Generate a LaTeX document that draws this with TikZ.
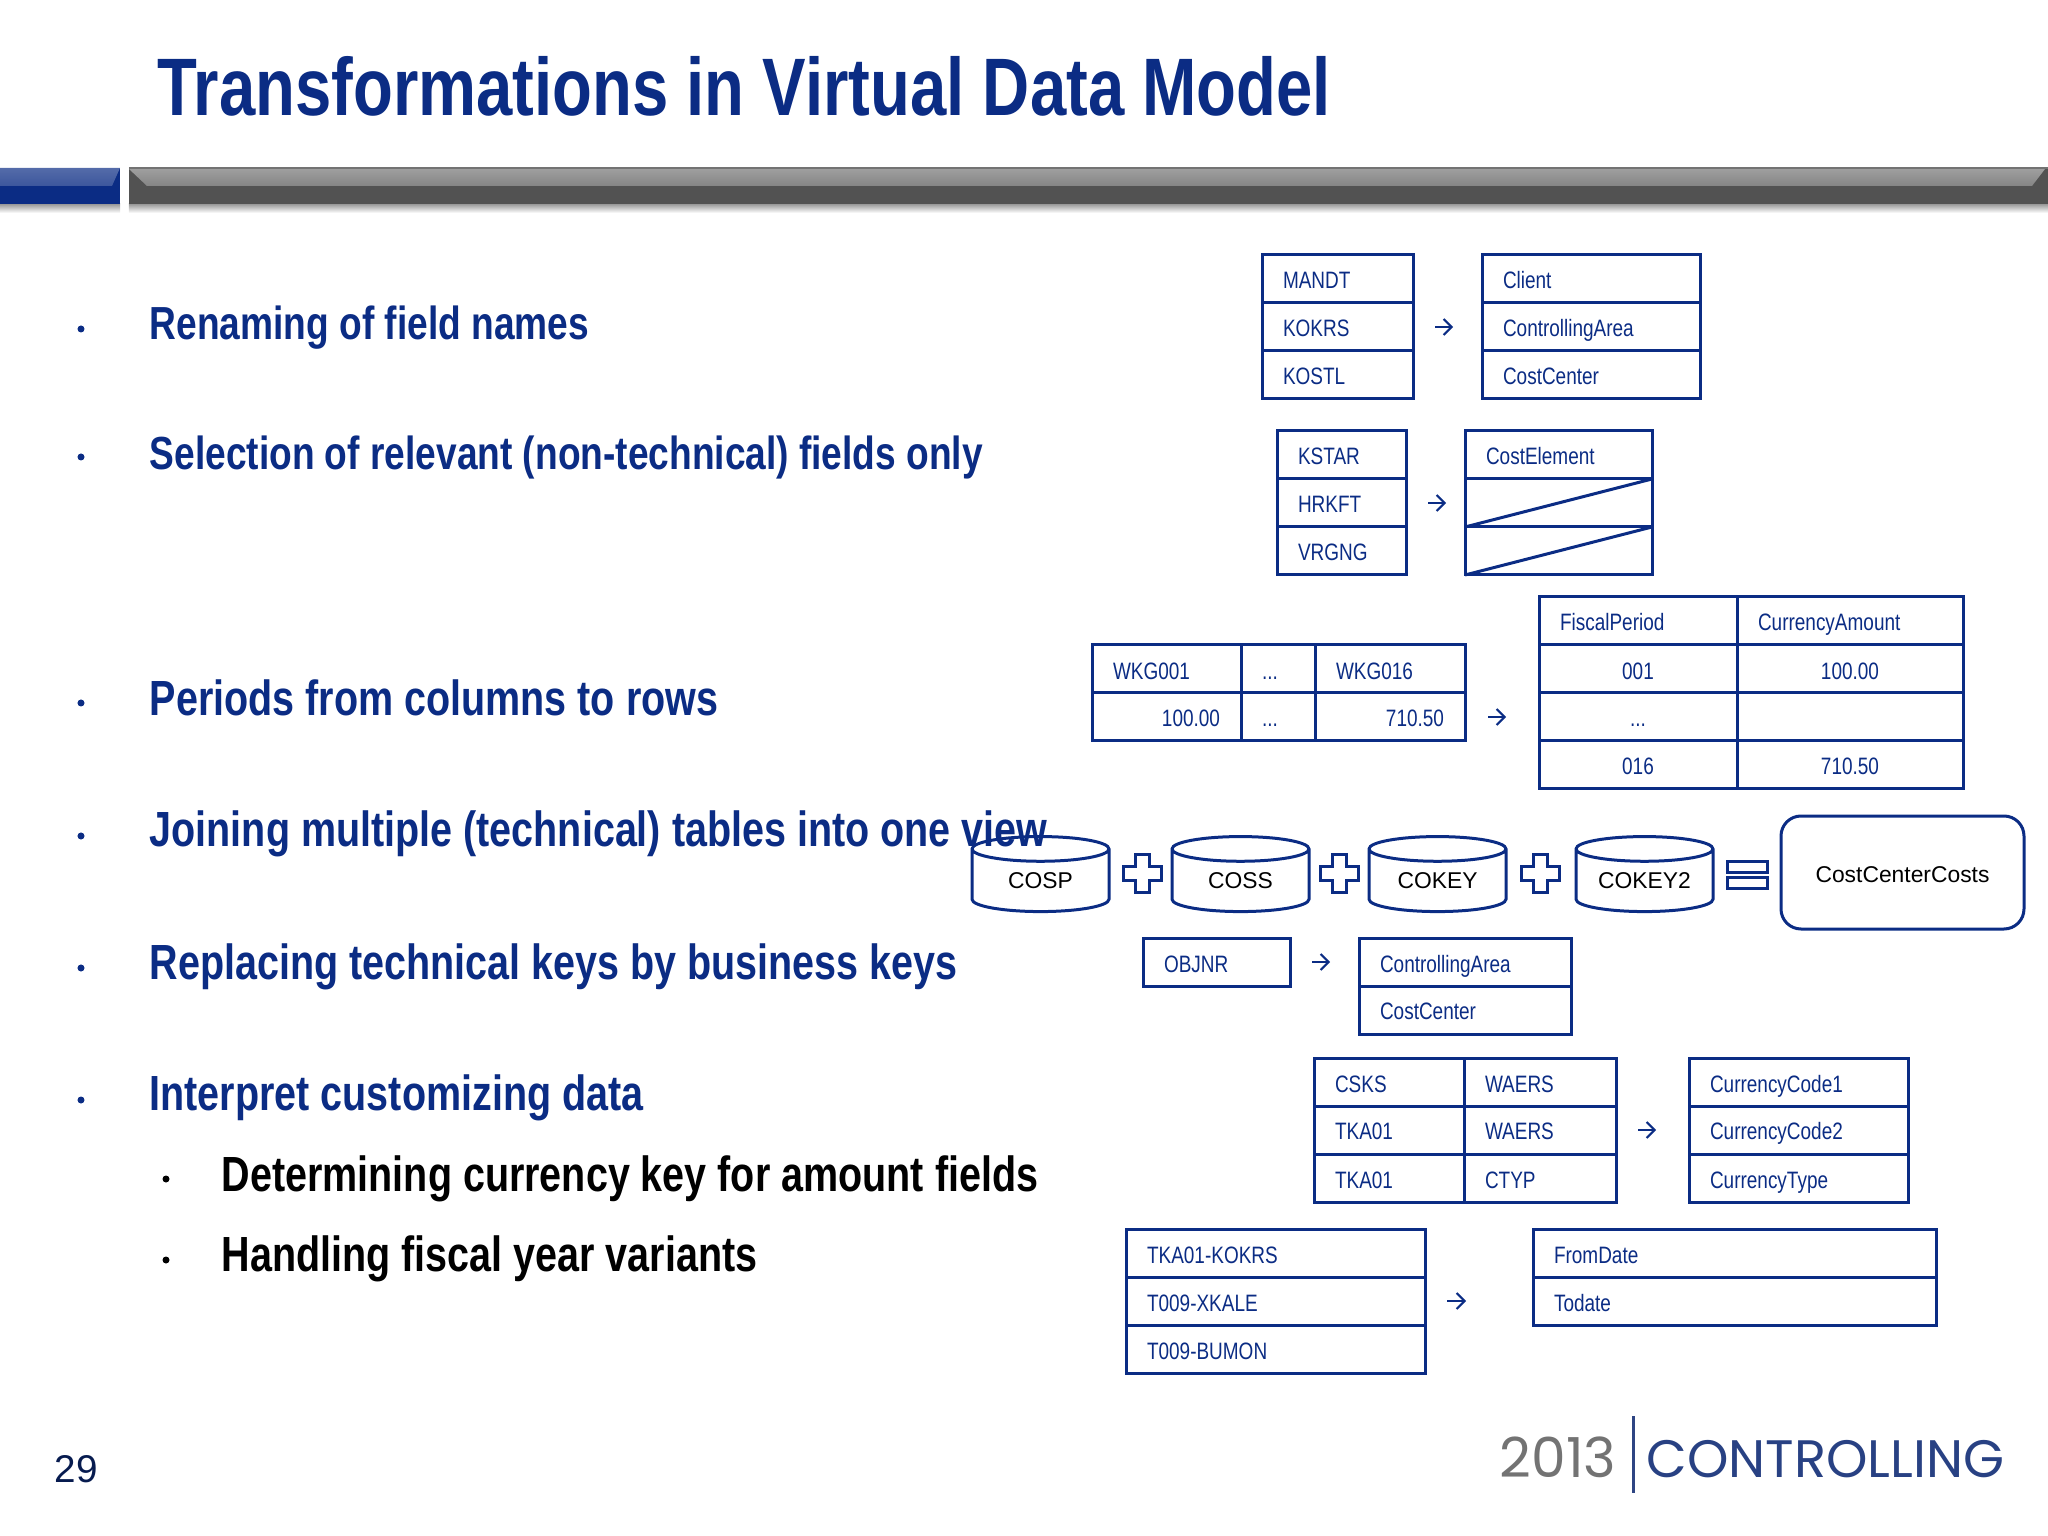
\documentclass[tikz,border=0pt]{standalone}
\usepackage{fontspec}
\setmainfont{Liberation Sans}
\newfontfamily\narrowfont[FakeStretch=0.8]{Liberation Sans}
\newfontfamily\logofont{Poppins}
\usetikzlibrary{positioning,arrows.meta,shapes.geometric}
\definecolor{sapblue}{HTML}{0B2C84}
\tikzset{
	cell/.style={draw=sapblue, line width=.03cm, outer sep=0pt, minimum height=.48cm, inner xsep=.21cm, inner ysep=0pt,
		text width={#1-.42cm}, text height=2.3mm, text depth=.3mm, align=left, text=sapblue,
		font=\narrowfont\fontsize{6.75}{8}\selectfont},
	headline/.style={anchor=base west, inner sep=0pt, text=sapblue, font=\narrowfont\bfseries\fontsize{14.05}{16}\selectfont},
	smallline/.style={headline, font=\narrowfont\bfseries\fontsize{13.2}{15}\selectfont},
	subline/.style={headline, text=black},
	barrel/.style={cylinder, draw=sapblue, line width=.03cm, shape border rotate=90, shape aspect=.38, minimum width=1.37cm, minimum height=.75cm,
		inner sep=0pt, text width=.65cm, text height=1.7mm, text depth=0pt},
	barreltext/.style={inner sep=0pt, font=\fontsize{6.5}{8}\selectfont},
	gaparrow/.style 2 args={draw=sapblue, line width=.02cm, -{Straight Barb[length=.8mm,width=1.6mm]}, shorten <=#1 cm, shorten >=#2 cm},
}
\begin{document}
\begin{tikzpicture}
	\useasboundingbox (0,0) rectangle (20.48,-15.36);

	% title and bars
	\node[anchor=base west, inner sep=0pt, text=sapblue, font=\narrowfont\bfseries\fontsize{23.2}{27}\selectfont] (title) at (1.57,-1.16) {Transformations in Virtual Data Model};
	\shade[top color=black!40, bottom color=white] (0,-2.04) rectangle (1.2,-2.13);
	\shade[top color=black!40, bottom color=white] (1.29,-2.04) rectangle (20.48,-2.13);
	\fill[sapblue] (0,-1.68) rectangle (1.2,-2.04);
	\shade[top color=sapblue!70!white, bottom color=sapblue!80!white] (0,-1.68) -- (1.2,-1.68) -- (1.12,-1.86) -- (0,-1.86) -- cycle;
	\fill[black!68] (1.29,-1.68) rectangle (20.48,-2.04);
	\shade[top color=black!38, bottom color=black!48] (1.29,-1.69) -- (20.45,-1.69) -- (20.32,-1.86) -- (1.47,-1.86) -- cycle;
	\draw[black!55, line width=.02cm] (1.29,-1.68) -- (20.48,-1.68);

	% left column
	\node[smallline] (h1) at (1.49,-3.40) {Renaming of field names};
	\node[smallline] (h2) at (1.49,-4.69) {Selection of relevant (non-technical) fields only};
	\node[headline] (h3) at (1.49,-7.16) {Periods from columns to rows};
	\node[headline] (h4) at (1.49,-8.47) {Joining multiple (technical) tables into one view};
	\node[headline] (h5) at (1.49,-9.79) {Replacing technical keys by business keys};
	\node[headline] (h6) at (1.49,-11.10) {Interpret customizing data};
	\node[subline] (s1) at (2.21,-11.91) {Determining currency key for amount fields};
	\node[subline] (s2) at (2.21,-12.71) {Handling fiscal year variants};
	\foreach \y in {3.29,4.57,7.03,8.36,9.68,11.00}
	{
		\fill[sapblue] (.81,-\y) circle [radius=.035];
	};
	\foreach \y in {11.79,12.60}
	{
		\fill[black] (1.66,-\y) circle [radius=.035];
	};

	% renaming
	\node[cell=1.51cm, anchor=north west] (mandt) at (12.62,-2.55) {MANDT};
	\node[cell=1.51cm, below=0cm of mandt] (kokrs) {KOKRS};
	\node[cell=1.51cm, below=0cm of kokrs] (kostl) {KOSTL};
	\node[cell=2.18cm, anchor=north west] (client) at (14.82,-2.55) {Client};
	\node[cell=2.18cm, below=0cm of client] (area) {ControllingArea};
	\node[cell=2.18cm, below=0cm of area] (center) {CostCenter};

	% selection
	\node[cell=1.29cm, anchor=north west] (kstar) at (12.77,-4.31) {KSTAR};
	\node[cell=1.29cm, below=0cm of kstar] (hrkft) {HRKFT};
	\node[cell=1.29cm, below=0cm of hrkft] (vrgng) {VRGNG};
	\node[cell=1.87cm, anchor=north west] (element) at (14.65,-4.31) {CostElement};
	\node[cell=1.87cm, below=0cm of element] (gone1) {};
	\node[cell=1.87cm, below=0cm of gone1] (gone2) {};
	\foreach \i in {1,2}
	{
		\draw[sapblue, line width=.03cm] (gone\i.south west) -- (gone\i.north east);
	};

	% periods
	\node[cell=1.49cm, anchor=north west] (wkga) at (10.92,-6.45) {WKG001};
	\node[cell=.74cm, right=0cm of wkga] (wkgdots) {...};
	\node[cell=1.50cm, right=0cm of wkgdots] (wkgb) {WKG016};
	\node[cell=1.49cm, below=0cm of wkga, align=right] (vala) {100.00};
	\node[cell=.74cm, below=0cm of wkgdots] (valdots) {...};
	\node[cell=1.50cm, below=0cm of wkgb, align=right] (valb) {710.50};
	\node[cell=1.98cm, anchor=north west] (fiscal) at (15.39,-5.97) {FiscalPeriod};
	\node[cell=2.26cm, right=0cm of fiscal] (amount) {CurrencyAmount};
	\node[cell=1.98cm, below=0cm of fiscal, align=center] (pa) {001};
	\node[cell=2.26cm, below=0cm of amount, align=center] (aa) {100.00};
	\node[cell=1.98cm, below=0cm of pa, align=center] (pdots) {...};
	\node[cell=2.26cm, below=0cm of aa] (adots) {};
	\node[cell=1.98cm, below=0cm of pdots, align=center] (pb) {016};
	\node[cell=2.26cm, below=0cm of adots, align=center] (ab) {710.50};

	% join
	\node[barrel, label={[barreltext]center:COSP}] (cosp) at (10.405,-8.81) {};
	\node[barrel, label={[barreltext]center:COSS}] (coss) at (12.405,-8.81) {};
	\node[barrel, label={[barreltext]center:COKEY}] (cokey) at (14.375,-8.81) {};
	\node[barrel, label={[barreltext]center:COKEY2}] (cokeyb) at (16.445,-8.81) {};
	\foreach \x in {11.42,13.395,15.405}
	{
		\draw[sapblue, line width=.03cm, shift={(\x,-8.735)}] (-.07,.19) -- (.07,.19) -- (.07,.07) -- (.19,.07) -- (.19,-.07) -- (.07,-.07) -- (.07,-.19) -- (-.07,-.19) -- (-.07,-.07) -- (-.19,-.07) -- (-.19,.07) -- (-.07,.07) -- cycle;
	};
	\draw[sapblue, line width=.03cm] (17.27,-8.62) rectangle (17.67,-8.72);
	\draw[sapblue, line width=.03cm] (17.27,-8.77) rectangle (17.67,-8.88);
	\node[draw=sapblue, line width=.03cm, rounded corners=.2cm, minimum width=2.43cm, minimum height=1.13cm, inner sep=0pt, text height=2.3mm, text depth=.3mm, font=\fontsize{6.5}{8}\selectfont] (costs) at (19.025,-8.725) {CostCenterCosts};

	% business keys
	\node[cell=1.47cm, anchor=north west] (objnr) at (11.43,-9.38) {OBJNR};
	\node[cell=2.12cm, anchor=north west] (area2) at (13.59,-9.38) {ControllingArea};
	\node[cell=2.12cm, below=0cm of area2] (center2) {CostCenter};

	% customizing
	\node[cell=1.50cm, anchor=north west] (csks) at (13.14,-10.58) {CSKS};
	\node[cell=1.50cm, below=0cm of csks] (tkaa) {TKA01};
	\node[cell=1.50cm, below=0cm of tkaa] (tkab) {TKA01};
	\node[cell=1.52cm, right=0cm of csks] (waersa) {WAERS};
	\node[cell=1.52cm, right=0cm of tkaa] (waersb) {WAERS};
	\node[cell=1.52cm, right=0cm of tkab] (ctyp) {CTYP};
	\node[cell=2.19cm, anchor=north west] (codea) at (16.89,-10.58) {CurrencyCode1};
	\node[cell=2.19cm, below=0cm of codea] (codeb) {CurrencyCode2};
	\node[cell=2.19cm, below=0cm of codeb] (ctype) {CurrencyType};

	% fiscal year
	\node[cell=2.99cm, anchor=north west] (kokrsb) at (11.26,-12.29) {TKA01-KOKRS};
	\node[cell=2.99cm, below=0cm of kokrsb] (xkale) {T009-XKALE};
	\node[cell=2.99cm, below=0cm of xkale] (bumon) {T009-BUMON};
	\node[cell=4.03cm, anchor=north west] (from) at (15.33,-12.29) {FromDate};
	\node[cell=4.03cm, below=0cm of from] (todate) {Todate};

	\foreach \a / \b / \p / \q in {
	kokrs/area/.22/.29,
	hrkft/gone1/.22/.19,
	valb/pdots/.23/.33,
	objnr/area2/.22/.29,
	waersb/codeb/.22/.33,
	xkale/todate/.22/.67}
	{
		\draw[gaparrow={\p}{\q}] (\a.east) -- (\b.west);
	};

	% footer
	\node[anchor=base west, inner sep=0pt, font=\fontsize{11}{13}\selectfont, text=sapblue!60!black] (page) at (.54,-14.82) {29};
	\node[anchor=base east, inner sep=0pt, text=black!55, font=\logofont\fontsize{15.7}{18}\selectfont] (year) at (16.17,-14.77) {2013};
	\node[anchor=base west, inner sep=0pt, text=sapblue!75!gray, font=\logofont\fontsize{15}{18}\selectfont] (brand) at (16.46,-14.77) {CONTROLLING};
	\draw[sapblue!70!gray, line width=.03cm] (16.33,-14.16) -- (16.33,-14.93);
\end{tikzpicture}
\end{document}
